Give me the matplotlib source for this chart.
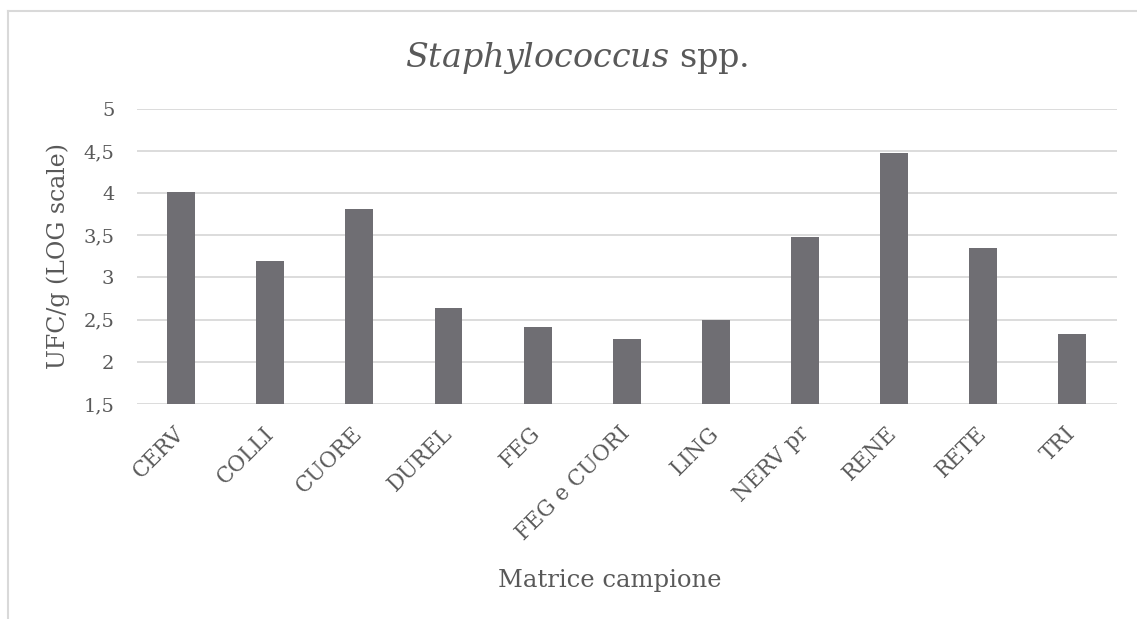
import matplotlib
matplotlib.use("Agg")
import matplotlib.pyplot as plt
from matplotlib.lines import Line2D

# Campioni e conte (log UFC/g)
matrici = ['CERV', 'COLLI', 'CUORE', 'DUREL', 'FEG', 'FEG e CUORI',
           'LING', 'NERV pr', 'RENE', 'RETE', 'TRI']
log_ufc = [4.01, 3.20, 3.81, 2.64, 2.41, 2.27, 2.50, 3.48, 4.48, 3.35, 2.33]
y_ticks = [1.5, 2, 2.5, 3, 3.5, 4, 4.5, 5]

plt.rcParams['font.family'] = 'DejaVu Serif'
plt.rcParams['mathtext.fontset'] = 'dejavuserif'
text_col = '#595959'
grid_col = '#d9d9d9'
bar_col = '#6f6e73'

W, H = 1137, 619
fig = plt.figure(figsize=(W / 100, H / 100), dpi=100)
ax = fig.add_axes([136.7 / W, 1 - 404 / H, 980 / W, 295.3 / H])

x = range(len(matrici))
ax.bar(x, log_ufc, width=0.313, color=bar_col, zorder=2)

ax.set_xlim(-0.5, len(matrici) - 0.5)
ax.set_ylim(1.5, 5)
ax.set_yticks(y_ticks)
ax.set_yticklabels([f'{v:g}'.replace('.', ',') for v in y_ticks])
ax.set_xticks(list(x))
ax.set_xticklabels(matrici, rotation=45, ha='right', va='center',
                   rotation_mode='anchor')
ax.yaxis.grid(True, color=grid_col, linewidth=1.3, zorder=0)
for s in ax.spines.values():
    s.set_visible(False)
ax.tick_params(axis='both', length=0, labelcolor=text_col)
ax.tick_params(axis='y', pad=16, labelsize=14)
ax.tick_params(axis='x', pad=19, labelsize=15.5)

# Titoli
fig.text(577 / W, 1 - 66.7 / H, r'$Staphylococcus$ spp.', ha='center',
         va='baseline', fontsize=24, color=text_col)
fig.text(58 / W, 1 - 256 / H, 'UFC/g (LOG scale)', rotation=90,
         ha='center', va='center', fontsize=17, color=text_col)
fig.text(610 / W, 1 - 587 / H, 'Matrice campione', ha='center',
         va='baseline', fontsize=17.5, color=text_col)

# Bordo dell'area grafico
fig.add_artist(Line2D([7.5 / W, 1], [1 - 10.7 / H] * 2, color=grid_col, lw=1.5))
fig.add_artist(Line2D([7.5 / W] * 2, [0, 1 - 10.7 / H], color=grid_col, lw=1.5))

fig.savefig('out.png', dpi=100, facecolor='white')
